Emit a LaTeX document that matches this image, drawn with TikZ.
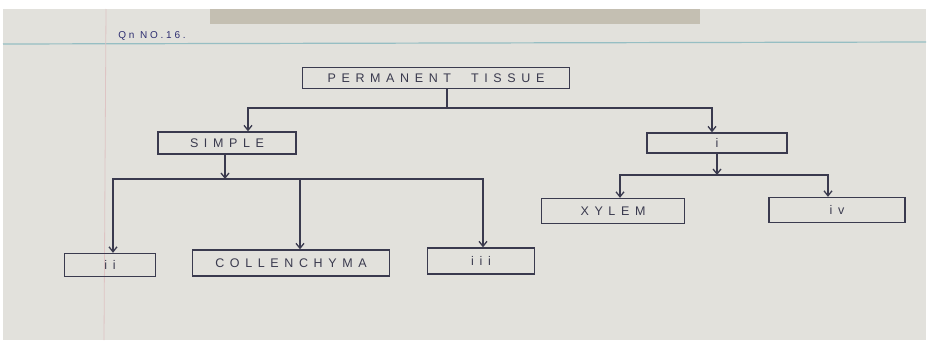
\documentclass[tikz,border=0pt]{standalone}
\usepackage{fontspec}
\usepackage{xcolor}
\usepackage{tikz}
\usetikzlibrary{arrows.meta}
\newfontfamily\handfont[LetterSpace=45]{Liberation Sans}
\newfontfamily\notefont[LetterSpace=28]{Liberation Sans}
\definecolor{inkgrey}{RGB}{58,58,78}
\definecolor{paper}{RGB}{226,225,220}
\definecolor{ruleblue}{RGB}{150,190,195}
\definecolor{marginred}{RGB}{222,196,196}
\definecolor{shadowtop}{RGB}{160,150,128}

\begin{document}
\begin{tikzpicture}[
        x=1pt, y=-1pt,
        every node/.style={font=\handfont\fontsize{12.5}{14}\selectfont, text=inkgrey},
        tissue/.style={rectangle, draw=inkgrey, line width=1.3pt, inner sep=0pt, align=center},
        line/.style={draw=inkgrey, line width=1.3pt},
        arrow/.style={line, -{Straight Barb[length=5pt, width=8pt]}}
    ]
        \useasboundingbox (0,0) rectangle (934,348);
        % Paper
        \fill[white] (0,0) rectangle (934,348);
        \fill[paper] (3,9) rectangle (926,340);
        \fill[shadowtop, opacity=0.45] (210,9) rectangle (700,24);
        \draw[ruleblue, line width=1.2pt] (3,44) -- (926,42);
        \draw[marginred, line width=0.8pt] (106,9) -- (104,340);
        \node[font=\notefont\fontsize{10}{12}\selectfont, text=inkgrey!80!blue] (qno) at (152,36) {Qn NO.16.};

        % Nodes
        \node[tissue, minimum width=267pt, minimum height=21pt] (perm) at (436,78) {PERMANENT\hspace{1.6em}TISSUE};
        \node[tissue, minimum width=138pt, minimum height=22pt] (simple) at (227,143) {SIMPLE};
        \node[tissue, minimum width=140pt, minimum height=20pt] (complex) at (717,143) {i};
        \node[tissue, minimum width=91pt, minimum height=23pt] (ii) at (110,265) {ii};
        \node[tissue, minimum width=197pt, minimum height=26pt] (collen) at (291,263) {COLLENCHYMA};
        \node[tissue, minimum width=107pt, minimum height=26pt] (iii) at (481,261) {iii};
        \node[tissue, minimum width=143pt, minimum height=25pt] (xylem) at (613,211) {XYLEM};
        \node[tissue, minimum width=136pt, minimum height=25pt] (iv) at (837,210) {iv};

        % Junctions
        \coordinate (jtop) at (447,108);
        \coordinate (jsimple) at (225,179);
        \coordinate (jcomplex) at (717,175);

        % Connections
        \draw[line] (perm.south -| jtop) -- (jtop);
        \draw[arrow] (jtop) -| ([xshift=21pt]simple.north);
        \draw[arrow] (jtop) -| ([xshift=-5pt]complex.north);
        \draw[arrow] (simple.south -| jsimple) -- (jsimple);
        \draw[arrow] (jsimple) -| ([xshift=3pt]ii.north);
        \draw[arrow] (jsimple) -| ([xshift=9pt]collen.north);
        \draw[arrow] (jsimple) -| ([xshift=2pt]iii.north);
        \draw[arrow] (complex.south) -- (jcomplex);
        \draw[arrow] (jcomplex) -| ([xshift=7pt]xylem.north);
        \draw[arrow] (jcomplex) -| ([xshift=-9pt]iv.north);

    \end{tikzpicture}
\end{document}
